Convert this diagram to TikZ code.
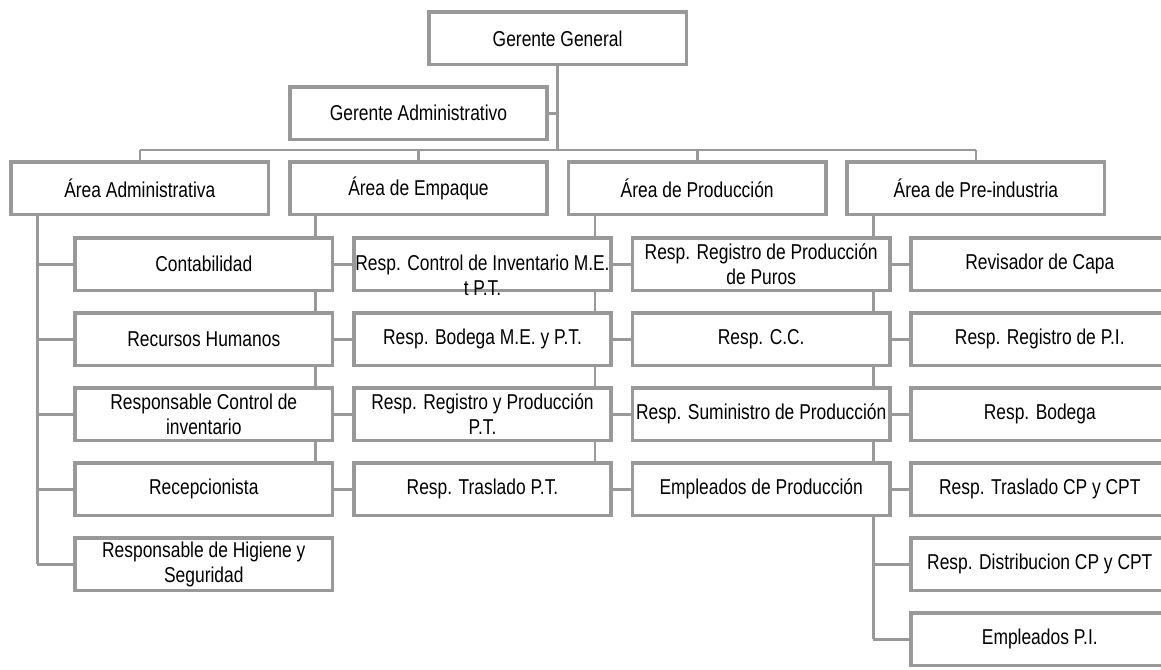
\documentclass[tikz,border=0pt]{standalone}
\usepackage{fontspec}
\setmainfont{Liberation Sans}[FakeStretch=0.81]
\usetikzlibrary{backgrounds}
\definecolor{bgray}{RGB}{153,153,153}
\begin{document}
\begin{tikzpicture}[x=1pt,y=-1pt,
  box/.style={draw=bgray, line width=3.6pt, fill=white, minimum width=257.4pt,
    minimum height=52.4pt, inner sep=0pt, align=center,
    font=\fontsize{21.5}{24.5}\selectfont},
  lbl/.style={inner sep=0pt, align=center, font=\fontsize{21.5}{24.5}\selectfont},
  conn/.style={draw=bgray, line width=2.6pt}]
\useasboundingbox (0,0) rectangle (1161,669);
\clip (0,0) rectangle (1161,669);
% top
\node[box] (gg) at (557.6,38.5) {Gerente General};
\node[box] (ga) at (418.5,113.2) {Gerente Administrativo};
% areas
\node[box] (aa)  at (139.8,188.3) {Área Administrativa};
\node[box] (ae)  at (418.5,188.3) {Área de Empaque};
\node[box] (ap)  at (697.2,188.3) {Área de Producción};
\node[box] (api) at (975.9,188.3) {Área de Pre-industria};
% column 1
\node[box] (c1r1) at (203.8,264.2) {Contabilidad};
\node[box] (c1r2) at (203.8,339.2) {Recursos Humanos};
\node[box] (c1r3) at (203.8,414.2) {Responsable Control de\\inventario};
\node[box] (c1r4) at (203.8,489.2) {Recepcionista};
\node[box] (c1r5) at (203.8,564.2) {Responsable de Higiene y\\Seguridad};
% column 2
\node[box] (c2r1) at (482.5,264.2) {};
\node[lbl] (c2r1t) at ([yshift=-11pt]c2r1.center) {Resp. Control de Inventario M.E.\\t P.T.};
\node[box] (c2r2) at (482.5,339.2) {Resp. Bodega M.E. y P.T.};
\node[box] (c2r3) at (482.5,414.2) {Resp. Registro y Producción\\P.T.};
\node[box] (c2r4) at (482.5,489.2) {Resp. Traslado P.T.};
% column 3
\node[box] (c3r1) at (761.2,264.2) {Resp. Registro de Producción\\de Puros};
\node[box] (c3r2) at (761.2,339.2) {Resp. C.C.};
\node[box] (c3r3) at (761.2,414.2) {Resp. Suministro de Producción};
\node[box] (c3r4) at (761.2,489.2) {Empleados de Producción};
% column 4
\node[box] (c4r1) at (1039.8,264.2) {Revisador de Capa};
\node[box] (c4r2) at (1039.8,339.2) {Resp. Registro de P.I.};
\node[box] (c4r3) at (1039.8,414.2) {Resp. Bodega};
\node[box] (c4r4) at (1039.8,489.2) {Resp. Traslado CP y CPT};
\node[box] (c4r5) at (1039.8,564.2) {Resp. Distribucion CP y CPT};
\node[box] (c4r6) at (1039.8,639.2) {Empleados P.I.};
% connectors
\begin{scope}[on background layer]
  \coordinate (bus) at (0,150);
  \draw[conn] (gg.south) -- (gg.south |- bus);
  \draw[conn] (ga.east) -- (ga.east -| gg.south);
  \draw[conn] (aa.north |- bus) -- (api.north |- bus);
  \foreach \n in {aa,ae,ap,api} \draw[conn] (\n.north) -- (\n.north |- bus);
  \coordinate (ta) at ([xshift=-102.5pt]aa.south);
  \coordinate (te) at ([xshift=-103.2pt]ae.south);
  \coordinate (tp) at ([xshift=-102.2pt]ap.south);
  \coordinate (tpi) at ([xshift=-102.6pt]api.south);
  \draw[conn] (ta) -- (ta |- c1r5.west);
  \foreach \k in {1,...,5} \draw[conn] (ta |- c1r\k.west) -- (c1r\k.west);
  \draw[conn] (te) -- (te |- c2r4.west);
  \foreach \k in {1,...,4} \draw[conn] (te |- c2r\k.west) -- (c2r\k.west);
  \draw[conn] (tp) -- (tp |- c3r4.west);
  \foreach \k in {1,...,4} \draw[conn] (tp |- c3r\k.west) -- (c3r\k.west);
  \draw[conn] (tpi) -- (tpi |- c4r6.west);
  \foreach \k in {1,...,6} \draw[conn] (tpi |- c4r\k.west) -- (c4r\k.west);
\end{scope}
\end{tikzpicture}
\end{document}
